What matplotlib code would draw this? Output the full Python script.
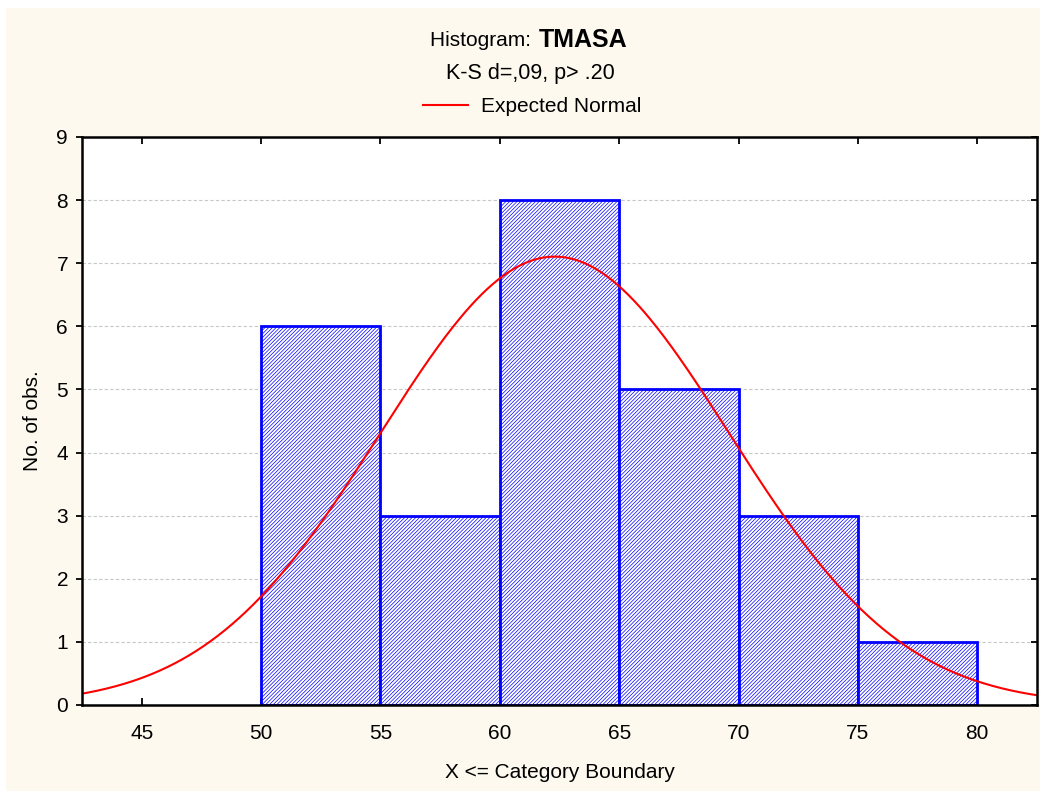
import numpy as np
import matplotlib
matplotlib.use("Agg")
import matplotlib.pyplot as plt
from matplotlib.patches import Rectangle

# data
bin_edges = [50, 55, 60, 65, 70, 75, 80]
counts = [6, 3, 8, 5, 3, 1]
x_ticks = [45, 50, 55, 60, 65, 70, 75, 80]
y_ticks = [0, 1, 2, 3, 4, 5, 6, 7, 8, 9]
normal_mean = 62.3
normal_sd = 7.3
n_obs = sum(counts)
bin_width = 5

plt.rcParams['font.family'] = ['Liberation Sans', 'DejaVu Sans']
plt.rcParams['hatch.linewidth'] = 0.5

fig = plt.figure(figsize=(10.4, 7.91), dpi=100)
fig.patch.set_facecolor('white')
# cream panel
fig.patches.append(Rectangle((6/1040, 0), 1 - 6/1040, 1 - 8/791,
                             transform=fig.transFigure, facecolor='#FDF9EE',
                             edgecolor='none', zorder=-10))

ax = fig.add_axes([82/1040, 1 - 705/791, (1037 - 82)/1040, (705 - 137)/791])
ax.set_facecolor('white')

lefts = bin_edges[:-1]
widths = np.diff(bin_edges)
ax.bar(lefts, counts, width=widths, align='edge', facecolor='white',
       edgecolor='#0000FF', hatch='/////////', linewidth=2.0, zorder=3)

xs = np.linspace(40, 85, 600)
ys = n_obs * bin_width / (normal_sd * np.sqrt(2 * np.pi)) * np.exp(-0.5 * ((xs - normal_mean) / normal_sd) ** 2)
line, = ax.plot(xs, ys, color='#FF0000', lw=1.5, zorder=4, label='Expected Normal')

ax.set_xlim(42.5, 82.5)
ax.set_ylim(0, 9)
ax.set_xticks(x_ticks)
ax.set_yticks(y_ticks)
ax.yaxis.grid(True, linestyle=(0, (3, 2)), color='#C8C8C8', lw=0.8, zorder=0)
ax.set_axisbelow(True)

for s in ax.spines.values():
    s.set_linewidth(1.8)
    s.set_color('black')
    s.set_zorder(5)

ax.tick_params(axis='x', direction='in', top=True, bottom=True, length=5, width=1.3,
               labelsize=15, pad=14)
ax.tick_params(axis='y', which='both', left=True, right=False, direction='out',
               length=4, width=1.3, labelsize=15, pad=6)
# inward ticks on right
ax2 = ax.twinx()
ax2.set_ylim(0, 9)
ax2.set_yticks(y_ticks)
ax2.tick_params(axis='y', direction='in', length=4, width=1.3, labelright=False)
for s in ax2.spines.values():
    s.set_visible(False)

ax.set_xlabel('X <= Category Boundary', fontsize=15, va='center')
ax.xaxis.set_label_coords(0.5, (705 - 773) / 568)
ax.set_ylabel('No. of obs.', fontsize=15, va='center')
ax.yaxis.set_label_coords((33 - 82) / 955, 0.5)

fig.text(537/1040, 1 - 40/791, 'Histogram: ', ha='right', va='center', fontsize=15)
fig.text(539/1040, 1 - 40/791, 'TMASA', ha='left', va='center', fontsize=18, fontweight='bold')
fig.text(530/1040, 1 - 73/791, 'K-S d=,09, p> .20', ha='center', va='center', fontsize=15.5)
fig.legend(handles=[line], loc='center', bbox_to_anchor=(532/1040, 1 - 107/791),
           frameon=False, fontsize=15, handlelength=2.2, handletextpad=0.6)

fig.savefig('out.png', dpi=100, facecolor=fig.get_facecolor())
